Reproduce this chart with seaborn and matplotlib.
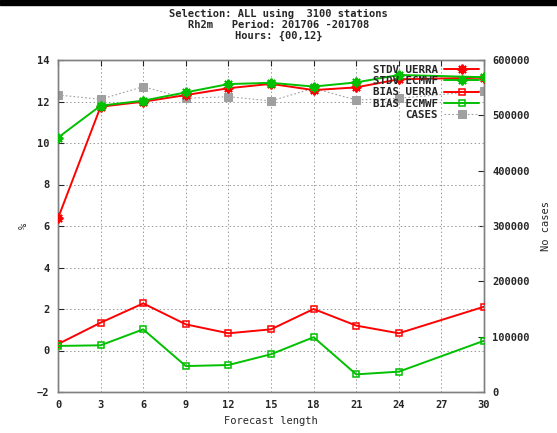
import matplotlib
matplotlib.use("Agg")
import matplotlib.pyplot as plt
import seaborn as sns
import pandas as pd
import numpy as np

# forecast lengths (no data at 27)
fc = [0, 3, 6, 9, 12, 15, 18, 21, 24, 30]

stdv_uerra = [6.37, 11.75, 11.99, 12.31, 12.64, 12.85, 12.55, 12.68, 13.07, 13.15]
stdv_ecmwf = [10.26, 11.80, 12.04, 12.44, 12.84, 12.90, 12.72, 12.92, 13.28, 13.17]
bias_uerra = [0.31, 1.34, 2.27, 1.26, 0.83, 1.02, 2.00, 1.20, 0.83, 2.11]
bias_ecmwf = [0.22, 0.25, 1.02, -0.75, -0.70, -0.18, 0.64, -1.15, -1.02, 0.47]
cases = [536800, 529000, 551800, 530800, 533700, 526000, 548900, 527700, 530800, 544500]

xticks = [0, 3, 6, 9, 12, 15, 18, 21, 24, 27, 30]

sns.set_style("white")
plt.rcParams['font.family'] = ['DejaVu Sans Mono']
plt.rcParams['font.weight'] = 'bold'
plt.rcParams['font.size'] = 7.5

red = '#ff0000'
green = '#00c000'
grey = '#a0a0a0'

fig = plt.figure(figsize=(5.57, 4.33), dpi=100)
ax = fig.add_axes([58/557, 41/433, 426/557, 332/433])
ax2 = ax.twinx()

df = pd.DataFrame({'fc': fc, 'su': stdv_uerra, 'se': stdv_ecmwf,
                   'bu': bias_uerra, 'be': bias_ecmwf, 'cases': cases})

ast = (8, 2, 0)
sns.lineplot(data=df, x='fc', y='su', ax=ax, color=red, lw=1.4, marker=ast,
             markersize=7, mec=red, mew=1.4, label='STDV UERRA', zorder=5)
sns.lineplot(data=df, x='fc', y='se', ax=ax, color=green, lw=1.4, marker=ast,
             markersize=7, mec=green, mew=1.4, label='STDV ECMWF', zorder=5)
sns.lineplot(data=df, x='fc', y='bu', ax=ax, color=red, lw=1.4, marker='s',
             markersize=4.5, mfc='none', mec=red, mew=1.1, label='BIAS UERRA', zorder=5)
sns.lineplot(data=df, x='fc', y='be', ax=ax, color=green, lw=1.4, marker='s',
             markersize=4.5, mfc='none', mec=green, mew=1.1, label='BIAS ECMWF', zorder=5)
sns.lineplot(data=df, x='fc', y='cases', ax=ax2, color=grey, lw=0.8, ls=(0, (1.5, 2)),
             marker='s', markersize=5.5, mfc=grey, mec=grey, label='CASES', zorder=2)

ax.set_xlim(0, 30)
ax.set_ylim(-2, 14)
ax.set_xticks(xticks)
ax.set_yticks(np.arange(-2, 15, 2))
ax2.set_ylim(0, 600000)
ax2.set_yticks(np.arange(0, 600001, 100000))

ax.grid(True, color='#999999', ls=(0, (1.5, 2.5)), lw=0.7)
ax.tick_params(direction='in', length=4, top=True, width=0.8, pad=6)
ax2.tick_params(direction='in', length=4, width=0.8, pad=6)
ax.tick_params(axis='y', left=True, right=False)
for a in (ax, ax2):
    for s in a.spines.values():
        s.set_color('#808080')
        s.set_linewidth(1.0)

ax.set_xlabel('Forecast length', labelpad=4)
ax.set_ylabel('%', labelpad=6)
ax2.set_ylabel('No cases', labelpad=8)

ax.set_zorder(ax2.get_zorder() + 1)
ax.patch.set_visible(False)

h1, l1 = ax.get_legend_handles_labels()
h2, l2 = ax2.get_legend_handles_labels()
ax2.get_legend().remove()
ax.legend(h1 + h2, l1 + l2, loc='upper right', frameon=False, markerfirst=False,
          handlelength=3.2, labelspacing=0.12, borderaxespad=0.15, handletextpad=0.6,
          borderpad=0.3, prop={'family': 'DejaVu Sans Mono', 'weight': 'bold', 'size': 7.8})

fig.text(0.5, 1 - 14/433, 'Selection: ALL using  3100 stations', ha='center', va='center')
fig.text(0.5, 1 - 25/433, 'Rh2m   Period: 201706 -201708', ha='center', va='center')
fig.text(0.5, 1 - 36/433, 'Hours: {00,12}', ha='center', va='center')
fig.patches.append(plt.Rectangle((0, 1 - 5/433), 1, 5/433, transform=fig.transFigure,
                                 color='black', zorder=10))

fig.savefig('out.png', dpi=100)
